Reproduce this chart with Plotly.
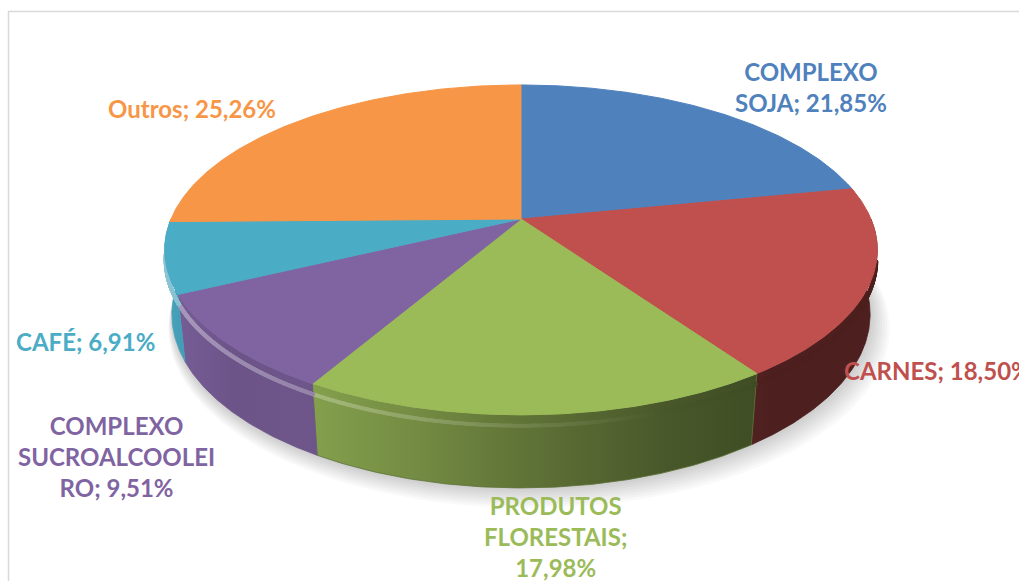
import numpy as np
import plotly.graph_objects as go

# ---------------- data ----------------
categories = ["COMPLEXO SOJA", "CARNES", "PRODUTOS FLORESTAIS",
              "COMPLEXO SUCROALCOOLEIRO", "CAFÉ", "Outros"]
values = [21.85, 18.50, 17.98, 9.51, 6.91, 25.26]
label_fmt = ["COMPLEXO<br>SOJA; {}", "CARNES; {}", "PRODUTOS<br>FLORESTAIS;<br>{}",
             "COMPLEXO<br>SUCROALCOOLEI<br>RO; {}", "CAFÉ; {}", "Outros; {}"]
colors = ["#4F81BD", "#C0504D", "#9BBB59", "#8064A2", "#4BACC6", "#F79646"]

# ---------------- layout / style ----------------
W, H = 1019, 581
cx, cy = 521, 219            # screen position of pie centre
D = 4.75                     # camera distance (pie radius = 1)
phi = np.radians(27.05)      # camera elevation
s, c = np.sin(phi), np.cos(phi)
f = 350 * D                  # focal length in px
h = 0.2075                   # pie thickness

# label positions (x, y, xanchor)
label_pos = [(811, 87, "center"), (842, 370, "left"), (555, 536, "center"),
             (116, 456, "center"), (85, 341, "center"), (192, 108, "center")]

# lighting factor across the pie width (0 = left, 1 = right)
light_u = [0.0, 0.1, 0.2, 0.35, 0.5, 0.7, 0.85, 1.0]
light_k = [0.95, 0.84, 0.86, 0.75, 0.62, 0.47, 0.40, 0.40]


def hex2rgb(hx):
    hx = hx.lstrip("#")
    return np.array([int(hx[i:i + 2], 16) for i in (0, 2, 4)], dtype=float)


def rgb(a):
    a = np.clip(a, 0, 255)
    return "rgb(%d,%d,%d)" % tuple(int(round(v)) for v in a)


def proj(th, Y, r=1.0):
    X = r * np.cos(th)
    Z = -r * np.sin(th)
    depth = D - (Y * s + Z * c)
    return cx + f * X / depth, cy - f * (Y * c - Z * s) / depth


def arc(t1, t2):
    n = max(int(abs(np.degrees(t2 - t1)) * 2), 6)
    return np.linspace(t1, t2, n)


vals = np.array(values, dtype=float)
cum = np.concatenate([[0], np.cumsum(vals)]) / vals.sum() * 2 * np.pi
th_start = np.pi / 2 - cum[:-1]
th_end = np.pi / 2 - cum[1:]

fig = go.Figure()

# ---- soft shadow below the pie ----
full = np.linspace(0, 2 * np.pi, 361)
for k in range(1, 9):
    sx, sy = proj(full, -h, 1.0 + 0.004 * k)
    fig.add_trace(go.Scatter(x=sx + 1.0 * k, y=sy + 1.5 * k, mode="lines", fill="toself",
                             line=dict(width=0), fillcolor="rgba(0,0,0,0.025)",
                             hoverinfo="skip", showlegend=False))

gx0, gx1 = cx - 360, cx + 360

# ---- side walls (front half only) ----
for i in range(len(vals)):
    a1, a2 = th_start[i], th_end[i]
    lo, hi = -np.pi, 0.0
    segs = []
    for off in (0.0, -2 * np.pi, 2 * np.pi):
        u1, u2 = min(a1, a2) + off, max(a1, a2) + off
        L, R = max(u1, lo), min(u2, hi)
        if R - L > 1e-4:
            segs.append((R, L))
    base = hex2rgb(colors[i])
    cs = [[u, rgb(base * k)] for u, k in zip(light_u, light_k)]
    for (t1, t2) in segs:
        t = arc(t1, t2)
        xt, yt = proj(t, 0.0)
        xb, yb = proj(t[::-1], -h)
        xs = np.concatenate([xt, xb, xt[:1]])
        ys = np.concatenate([yt, yb, yt[:1]])
        midu = (np.mean(xt) - gx0) / (gx1 - gx0)
        midk = np.interp(midu, light_u, light_k)
        fig.add_trace(go.Scatter(x=xs, y=ys, mode="lines", fill="toself",
                                 line=dict(width=0.8, color=rgb(base * midk)),
                                 fillgradient=dict(type="horizontal", colorscale=cs,
                                                   start=gx0, stop=gx1),
                                 hoverinfo="skip", showlegend=False))

# ---- bevel highlight along the front rim ----
hx, hy, hc = [], [], []
for i in range(len(vals)):
    a1, a2 = th_start[i], th_end[i]
    t = np.linspace(a1, a2, 500)
    tt = np.mod(t + np.pi, 2 * np.pi) - np.pi
    t = t[(tt < -0.2) & (tt > -np.pi + 0.08)]
    if len(t) == 0:
        continue
    xt, yt = proj(t, -0.03)
    u = (xt - gx0) / (gx1 - gx0)
    kk = np.clip(0.42 - 0.6 * u, 0, 1)
    base = hex2rgb(colors[i])
    for x_, y_, k_, u_ in zip(xt, yt, kk, u):
        sk = np.interp(u_, light_u, light_k)
        col = base * sk * (1 - k_) + 255 * k_ * 0.9 + base * k_ * 0.1
        hx.append(x_)
        hy.append(y_)
        hc.append(rgb(col))
fig.add_trace(go.Scatter(x=hx, y=hy, mode="markers",
                         marker=dict(size=4, color=hc, line=dict(width=0)),
                         hoverinfo="skip", showlegend=False))

# ---- top faces ----
for i in range(len(vals)):
    t = arc(th_start[i], th_end[i])
    xt, yt = proj(t, 0.0)
    xs = np.concatenate([[cx], xt, [cx]])
    ys = np.concatenate([[cy], yt, [cy]])
    fig.add_trace(go.Scatter(x=xs, y=ys, mode="lines", fill="toself",
                             line=dict(width=1, color=colors[i]), fillcolor=colors[i],
                             hoverinfo="skip", showlegend=False))

# ---- labels ----
for i in range(len(vals)):
    txt = label_fmt[i].format(("%.2f%%" % vals[i]).replace(".", ","))
    x, y, xa = label_pos[i]
    fig.add_annotation(x=x, y=y, xref="x", yref="y", text=txt, showarrow=False,
                       xanchor=xa, yanchor="middle", align="center",
                       font=dict(family="Lato, Open Sans, sans-serif", size=24,
                                 color=colors[i], weight="bold"))

# chart border
fig.add_shape(type="rect", xref="x", yref="y", x0=8.5, y0=11.5, x1=W + 20, y1=H + 20,
              line=dict(color="#D9D9D9", width=1.5), fillcolor="rgba(0,0,0,0)", layer="below")

fig.update_layout(
    width=W, height=H, margin=dict(l=0, r=0, t=0, b=0),
    paper_bgcolor="white", plot_bgcolor="white",
    xaxis=dict(range=[0, W], visible=False, fixedrange=True),
    yaxis=dict(range=[H, 0], visible=False, fixedrange=True),
    showlegend=False,
)

fig.write_html("out.html", config={"displayModeBar": False},
               post_script="document.body.style.margin='0px';document.body.style.overflow='hidden';")
